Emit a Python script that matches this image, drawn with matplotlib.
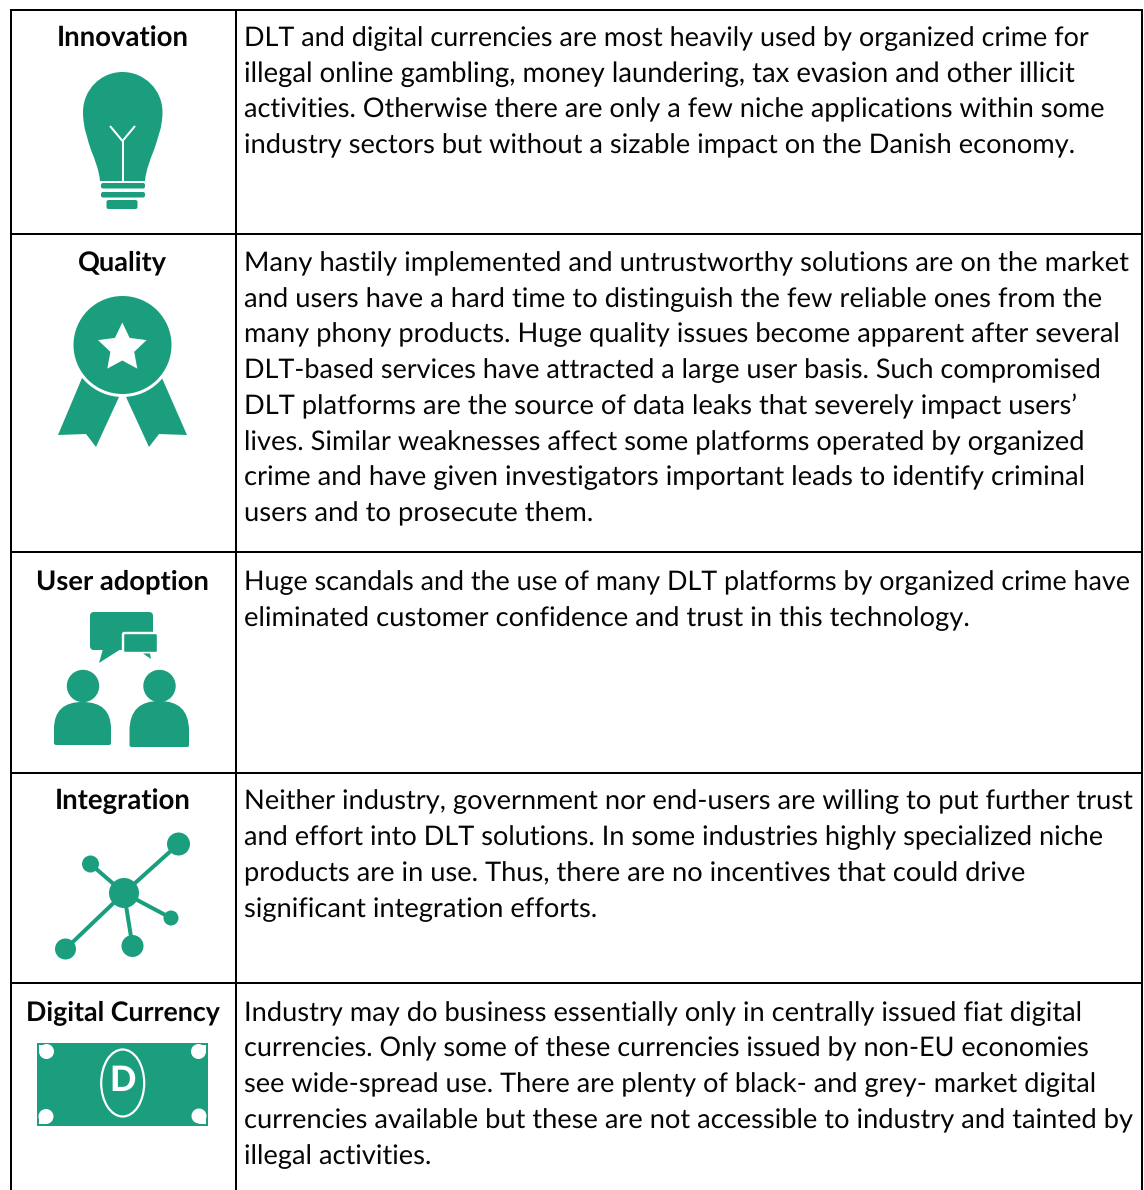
#!/usr/bin/env python
# -*- coding: utf-8 -*-
import numpy as np
import matplotlib
matplotlib.use("Agg")
import matplotlib.pyplot as plt
from matplotlib.path import Path
from matplotlib.patches import PathPatch, Circle, Polygon, Rectangle, FancyBboxPatch, Ellipse

plt.rcParams['text.hinting'] = 'no_hinting'

GREEN = '#1b9e7e'
INK = '#050505'
BODY_SIZE = 19.75
HEAD_SIZE = 19.3

headers = ['Innovation', 'Quality', 'User adoption', 'Integration', 'Digital Currency']
header_widths = [132, 89, 173, 136, 193]
header_base = [46, 270, 589, 809, 1020]
row_first_base = [46, 271, 590, 809.5, 1021]
row_lines = [
    ['DLT and digital currencies are most heavily used by organized crime for',
     'illegal online gambling, money laundering, tax evasion and other illicit',
     'activities. Otherwise there are only a few niche applications within some',
     'industry sectors but without a sizable impact on the Danish economy.'],
    ['Many hastily implemented and untrustworthy solutions are on the market',
     'and users have a hard time to distinguish the few reliable ones from the',
     'many phony products. Huge quality issues become apparent after several',
     'DLT-based services have attracted a large user basis. Such compromised',
     'DLT platforms are the source of data leaks that severely impact users\u2019',
     'lives. Similar weaknesses affect some platforms operated by organized',
     'crime and have given investigators important leads to identify criminal',
     'users and to prosecute them.'],
    ['Huge scandals and the use of many DLT platforms by organized crime have',
     'eliminated customer confidence and trust in this technology.'],
    ['Neither industry, government nor end-users are willing to put further trust',
     'and effort into DLT solutions. In some industries highly specialized niche',
     'products are in use. Thus, there are no incentives that could drive',
     'significant integration efforts.'],
    ['Industry may do business essentially only in centrally issued fiat digital',
     'currencies. Only some of these currencies issued by non-EU economies',
     'see wide-spread use. There are plenty of black- and grey- market digital',
     'currencies available but these are not accessible to industry and tainted by',
     'illegal activities.'],
]
# where each line of text ends in the reference
row_line_ends = [
    [1091, 1075, 1107, 1073],
    [1129, 1101, 1120, 1102, 1076, 1085, 1084, 593],
    [1133, 969],
    [1133, 1101, 1026, 597],
    [1081, 1090, 1097, 1134, 432],
]
grid_rows = [9.5, 234, 552, 773, 983]
line_pitch = 35.75
col_left, col_mid, col_right = 10.5, 236, 1142


def px(w):
    return w * 72 / 100.


def fit_width(txt, width):
    # Lato is not Calibri, nudge the size so the line runs as long as in the reference
    for _ in range(3):
        have = txt.get_window_extent(renderer=fig.canvas.get_renderer()).width
        txt.set_fontsize(txt.get_fontsize() * width / have)


def bulb(ax):
    V = [(100, 181), (99, 170), (95, 160), (91, 150),
         (88, 140), (83, 128), (83, 112),
         (83, 90), (100.5, 72), (122.5, 72),
         (144.5, 72), (162.5, 90), (162.5, 112),
         (162.5, 128), (157, 140), (154, 150),
         (150, 160), (146, 170), (145, 181), (100, 181)]
    C = [Path.MOVETO] + [Path.CURVE4] * 18 + [Path.CLOSEPOLY]
    ax.add_patch(PathPatch(Path(V, C), fc=GREEN, ec='none'))
    ax.plot([110, 122.5, 135], [126, 141, 126], color='white', lw=px(2), solid_capstyle='butt')
    ax.plot([122.5, 122.5], [141, 181], color='white', lw=px(2), solid_capstyle='butt')
    for y0, h, x0, w in [(183, 5.5, 101, 44), (192, 5.5, 101, 44), (200, 9, 106.5, 31)]:
        ax.add_patch(FancyBboxPatch((x0 + 2, y0 + 2), w - 4, h - 4, boxstyle='round,pad=2',
                                    fc=GREEN, ec='none'))


def rosette(ax):
    ax.add_patch(Polygon([(82, 378), (58, 435), (86, 434), (96, 447), (119, 397), (100, 385)],
                         fc=GREEN, ec='none'))
    ax.add_patch(Polygon([(162, 378), (187, 435), (159, 434), (149, 447), (126, 397), (145, 385)],
                         fc=GREEN, ec='none'))
    ax.add_patch(Circle((122.5, 345), 52, fc='white', ec='none'))
    ax.add_patch(Circle((122.5, 345), 49, fc=GREEN, ec='none'))
    ang = np.radians(-90 + 36 * np.arange(10))
    rad = np.where(np.arange(10) % 2 == 0, 25.5, 12.5)
    ax.add_patch(Polygon(np.c_[122.3 + rad * np.cos(ang), 348 + rad * np.sin(ang)], fc='white', ec='none'))


def body(ax, x0, x1, top, bottom):
    mid = (x0 + x1) / 2.
    V = [(x0 + 2, bottom), (x0, bottom), (x0, bottom - 2), (x0, bottom - 16),
         (x0, top + 9), (mid - 19, top), (mid, top),
         (mid + 19, top), (x1, top + 9), (x1, bottom - 16),
         (x1, bottom - 2), (x1, bottom), (x1 - 2, bottom), (x0 + 2, bottom)]
    C = [Path.MOVETO, Path.CURVE3, Path.CURVE3, Path.LINETO,
         Path.CURVE4, Path.CURVE4, Path.CURVE4, Path.CURVE4, Path.CURVE4, Path.CURVE4,
         Path.LINETO, Path.CURVE3, Path.CURVE3, Path.CLOSEPOLY]
    ax.add_patch(PathPatch(Path(V, C), fc=GREEN, ec='none'))


def users(ax):
    ax.add_patch(FancyBboxPatch((94, 616), 55, 30, boxstyle='round,pad=4', fc=GREEN, ec='none'))
    ax.add_patch(Polygon([(103, 649), (99, 663), (121, 649)], fc=GREEN, ec='none'))
    ax.add_patch(FancyBboxPatch((124.5, 634.5), 32, 17, boxstyle='round,pad=1.5', fc=GREEN, ec='white', lw=px(2.4)))
    ax.add_patch(Polygon([(143, 653.5), (151, 659), (150, 653.5)], fc=GREEN, ec='none'))
    ax.add_patch(Circle((83, 686), 16.2, fc=GREEN, ec='none'))
    ax.add_patch(Circle((159.5, 686), 16.2, fc=GREEN, ec='none'))
    body(ax, 54, 111, 702, 745)
    body(ax, 129.5, 189, 701, 747)


def network(ax):
    hub = (124, 893)
    nodes = [(178.5, 844, 11.5), (90.5, 864, 8.5), (171, 918, 7.5), (132.5, 946, 11), (65.5, 949, 10.5)]
    for x, y, r in nodes:
        ax.plot([hub[0], x], [hub[1], y], color=GREEN, lw=px(4), solid_capstyle='butt')
        ax.add_patch(Circle((x, y), r, fc=GREEN, ec='none', zorder=3))
    ax.add_patch(Circle(hub, 15, fc=GREEN, ec='none', zorder=3))


def banknote(ax):
    ax.add_patch(Rectangle((37, 1043), 171, 83, fc=GREEN, ec='none'))
    # corner punches: square on the outside, round on the inside
    for x, y, cx, cy in [(39, 1045, 46.5, 1051.5), (206, 1045, 198.5, 1051.5),
                         (39, 1124, 46, 1116.5), (206, 1124, 199, 1116)]:
        ax.add_patch(Circle((cx, cy), 7.5, fc='white', ec='none'))
        ax.add_patch(Rectangle((x, y), cx - x, cy - y, fc='white', ec='none'))
    ax.add_patch(Ellipse((122.7, 1083), 43, 67, fc='none', ec='white', lw=px(2.2)))
    ax.text(123, 1081, 'D', color='white', fontsize=25, fontweight='black', ha='center', va='center',
            family='Lato')


fig = plt.figure(figsize=(11.44, 11.90), dpi=100)
ax = fig.add_axes([0, 0, 1, 1])
ax.set_xlim(0, 1144)
ax.set_ylim(1190, 0)
ax.axis('off')

for y in grid_rows:
    ax.plot([col_left - 1, col_right + 1], [y, y], color='black', lw=px(2), solid_capstyle='butt')
for x in [col_left, col_mid, col_right]:
    ax.plot([x, x], [grid_rows[0], 1190], color='black', lw=px(2), solid_capstyle='butt')

for label, width, base in zip(headers, header_widths, header_base):
    t = ax.text(122.5, base, label, fontsize=HEAD_SIZE, fontweight='bold', family='Lato', color=INK,
                ha='center', va='baseline')
    fit_width(t, width)
for lines, ends, base in zip(row_lines, row_line_ends, row_first_base):
    for i, (line, end) in enumerate(zip(lines, ends)):
        t = ax.text(244, base + i * line_pitch, line, fontsize=BODY_SIZE, family='Lato', color=INK,
                    ha='left', va='baseline')
        fit_width(t, end - 244)

bulb(ax)
rosette(ax)
users(ax)
network(ax)
banknote(ax)

fig.savefig('out.png', dpi=100, facecolor='white')
